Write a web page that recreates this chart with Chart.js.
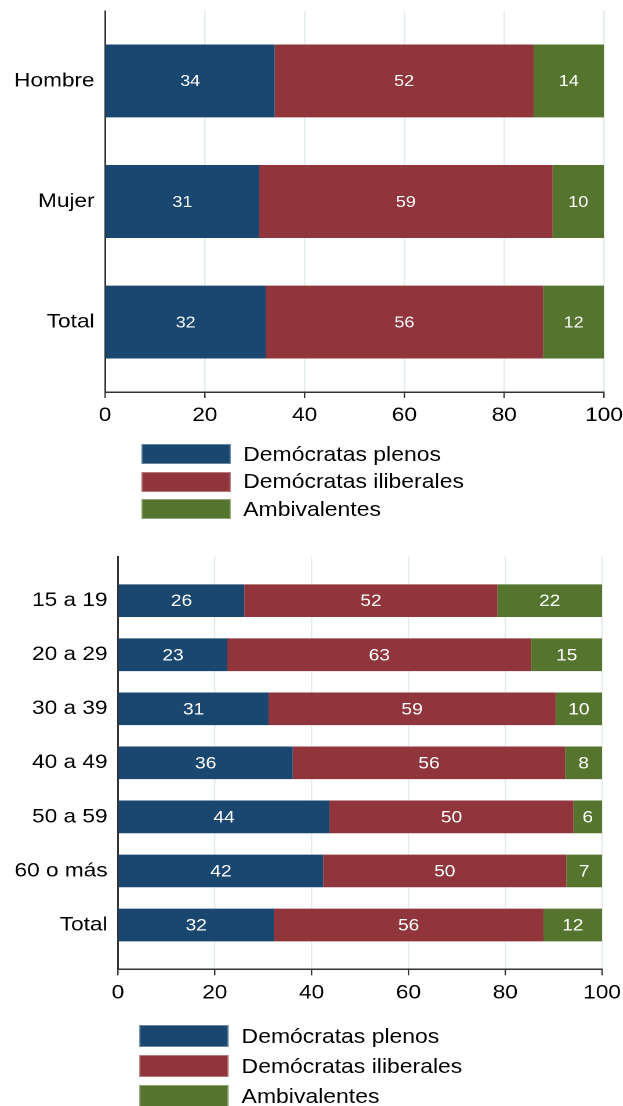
<!DOCTYPE html>
<html>
<head>
<meta charset="utf-8">
<script src="https://cdn.jsdelivr.net/npm/chart.js@4.4.0/dist/chart.umd.min.js"></script>
<style>
  html, body { margin: 0; padding: 0; background: #fff; overflow: hidden; }
  /* the reference is stretched sideways, so the whole page is drawn narrow and widened */
  #page { position: relative; width: 537px; height: 1106px; transform: scaleX(1.16); transform-origin: 0 0;
          font-family: "Liberation Sans", Arial, sans-serif; }
  canvas { position: absolute; left: 0; }
  .legend { position: absolute; color: #000; font-size: 19.8px; }
  .legend .row { display: flex; align-items: center; }
  .legend .box { flex: none; margin-right: 11px; box-sizing: border-box; border: 1px solid rgba(255,255,255,0.35); }
</style>
</head>
<body>
<div id="page">
  <canvas id="sexChart" width="537" height="430" style="top:0"></canvas>
  <div class="legend" id="sexLegend" style="top:444px;left:122px"></div>
  <canvas id="ageChart" width="537" height="463" style="top:545px"></canvas>
  <div class="legend" id="ageLegend" style="top:1025px;left:120px"></div>
</div>
<script>
const seriesNames = ['Demócratas plenos', 'Demócratas iliberales', 'Ambivalentes'];
const seriesColors = ['#1a476f', '#90353b', '#55752f'];

const sexLabels = ['Hombre', 'Mujer', 'Total'];
const sexPlenos = [34.0, 30.9, 32.2];
const sexIliberales = [51.9, 58.8, 55.6];
const sexAmbivalentes = [14.1, 10.3, 12.2];

const ageLabels = ['15 a 19', '20 a 29', '30 a 39', '40 a 49', '50 a 59', '60 o más', 'Total'];
const agePlenos = [26.1, 22.6, 31.1, 36.1, 43.7, 42.4, 32.2];
const ageIliberales = [52.3, 62.8, 59.3, 56.3, 50.4, 50.2, 55.7];
const ageAmbivalentes = [21.6, 14.6, 9.6, 7.6, 5.9, 7.4, 12.1];

const xTicks = [0, 20, 40, 60, 80, 100];

const FONT = '"Liberation Sans", Arial, sans-serif';

// white numbers in the middle of every segment
const valueLabels = {
  id: 'valueLabels',
  afterDatasetsDraw(chart, args, opts) {
    const ctx = chart.ctx;
    ctx.save();
    ctx.font = opts.size + 'px ' + FONT;
    ctx.fillStyle = '#fff';
    ctx.textAlign = 'center';
    ctx.textBaseline = 'middle';
    chart.data.datasets.forEach((ds, di) => {
      chart.getDatasetMeta(di).data.forEach((bar, i) => {
        const p = bar.getCenterPoint();
        ctx.fillText(String(Math.round(ds.data[i].x)), p.x, p.y + 1);
      });
    });
    ctx.restore();
  }
};

function makeChart(id, labels, series, o) {
  const datasets = series.map((vals, k) => ({
    label: seriesNames[k],
    data: vals.map((v, i) => ({ x: v, y: i })),
    backgroundColor: seriesColors[k],
    borderWidth: 0,
    barPercentage: 0.605,
    categoryPercentage: 1
  }));

  return new Chart(document.getElementById(id), {
    type: 'bar',
    data: { datasets },
    plugins: [valueLabels],
    options: {
      indexAxis: 'y',
      responsive: false,
      animation: false,
      devicePixelRatio: 2,
      layout: { padding: { top: o.top, right: o.right, left: 0, bottom: 0 } },
      plugins: {
        legend: { display: false },
        tooltip: { enabled: false },
        valueLabels: { size: o.labelSize }
      },
      scales: {
        x: {
          type: 'linear',
          stacked: true,
          min: 0,
          max: 100,
          offset: false,
          afterBuildTicks: axis => { axis.ticks = xTicks.map(v => ({ value: v })); },
          afterFit: s => { s.height = o.xHeight; s.paddingLeft = 0; s.paddingRight = 0; },
          ticks: { color: '#000', font: { family: FONT, size: 19.5 }, padding: 6, maxRotation: 0, autoSkip: false },
          grid: {
            color: c => (c.tick && c.tick.value === 0) ? 'rgba(0,0,0,0)' : '#e2ebee',
            lineWidth: 1.2,
            tickColor: '#333',
            tickLength: 6
          },
          border: { color: '#333', width: 1.5 }
        },
        y: {
          type: 'linear',
          stacked: true,
          reverse: true,
          offset: false,
          bounds: 'data',
          min: o.yMin,
          max: o.yMax,
          afterBuildTicks: axis => { axis.ticks = labels.map((_, i) => ({ value: i })); },
          afterFit: s => { s.width = o.yWidth; s.paddingTop = 0; s.paddingBottom = 0; },
          ticks: { callback: v => labels[v], color: '#000', font: { family: FONT, size: 19.5 }, padding: 9, autoSkip: false },
          grid: { offset: false, drawOnChartArea: false, drawTicks: false },
          border: { color: '#333', width: 1.5 }
        }
      }
    }
  });
}

function buildLegend(id, chart, boxW, boxH, gap) {
  const el = document.getElementById(id);
  chart.data.datasets.forEach((ds, i) => {
    const row = document.createElement('div');
    row.className = 'row';
    row.style.height = boxH + 'px';
    if (i > 0) row.style.marginTop = gap + 'px';
    const box = document.createElement('span');
    box.className = 'box';
    box.style.width = boxW + 'px';
    box.style.height = boxH + 'px';
    box.style.background = ds.backgroundColor;
    const txt = document.createElement('span');
    txt.textContent = ds.label;
    row.appendChild(box);
    row.appendChild(txt);
    el.appendChild(row);
  });
}

const sexChart = makeChart('sexChart', sexLabels, [sexPlenos, sexIliberales, sexAmbivalentes],
  { top: 11, right: 16.3, xHeight: 38, yWidth: 90.5, yMin: -0.58, yMax: 2.58, labelSize: 15.5 });
const ageChart = makeChart('ageChart', ageLabels, [agePlenos, ageIliberales, ageAmbivalentes],
  { top: 11.7, right: 18, xHeight: 38.7, yWidth: 101.7, yMin: -0.814, yMax: 6.82, labelSize: 16.5 });

buildLegend('sexLegend', sexChart, 76.7, 20, 7.5);
buildLegend('ageLegend', ageChart, 77.3, 22, 8);
</script>
</body>
</html>
